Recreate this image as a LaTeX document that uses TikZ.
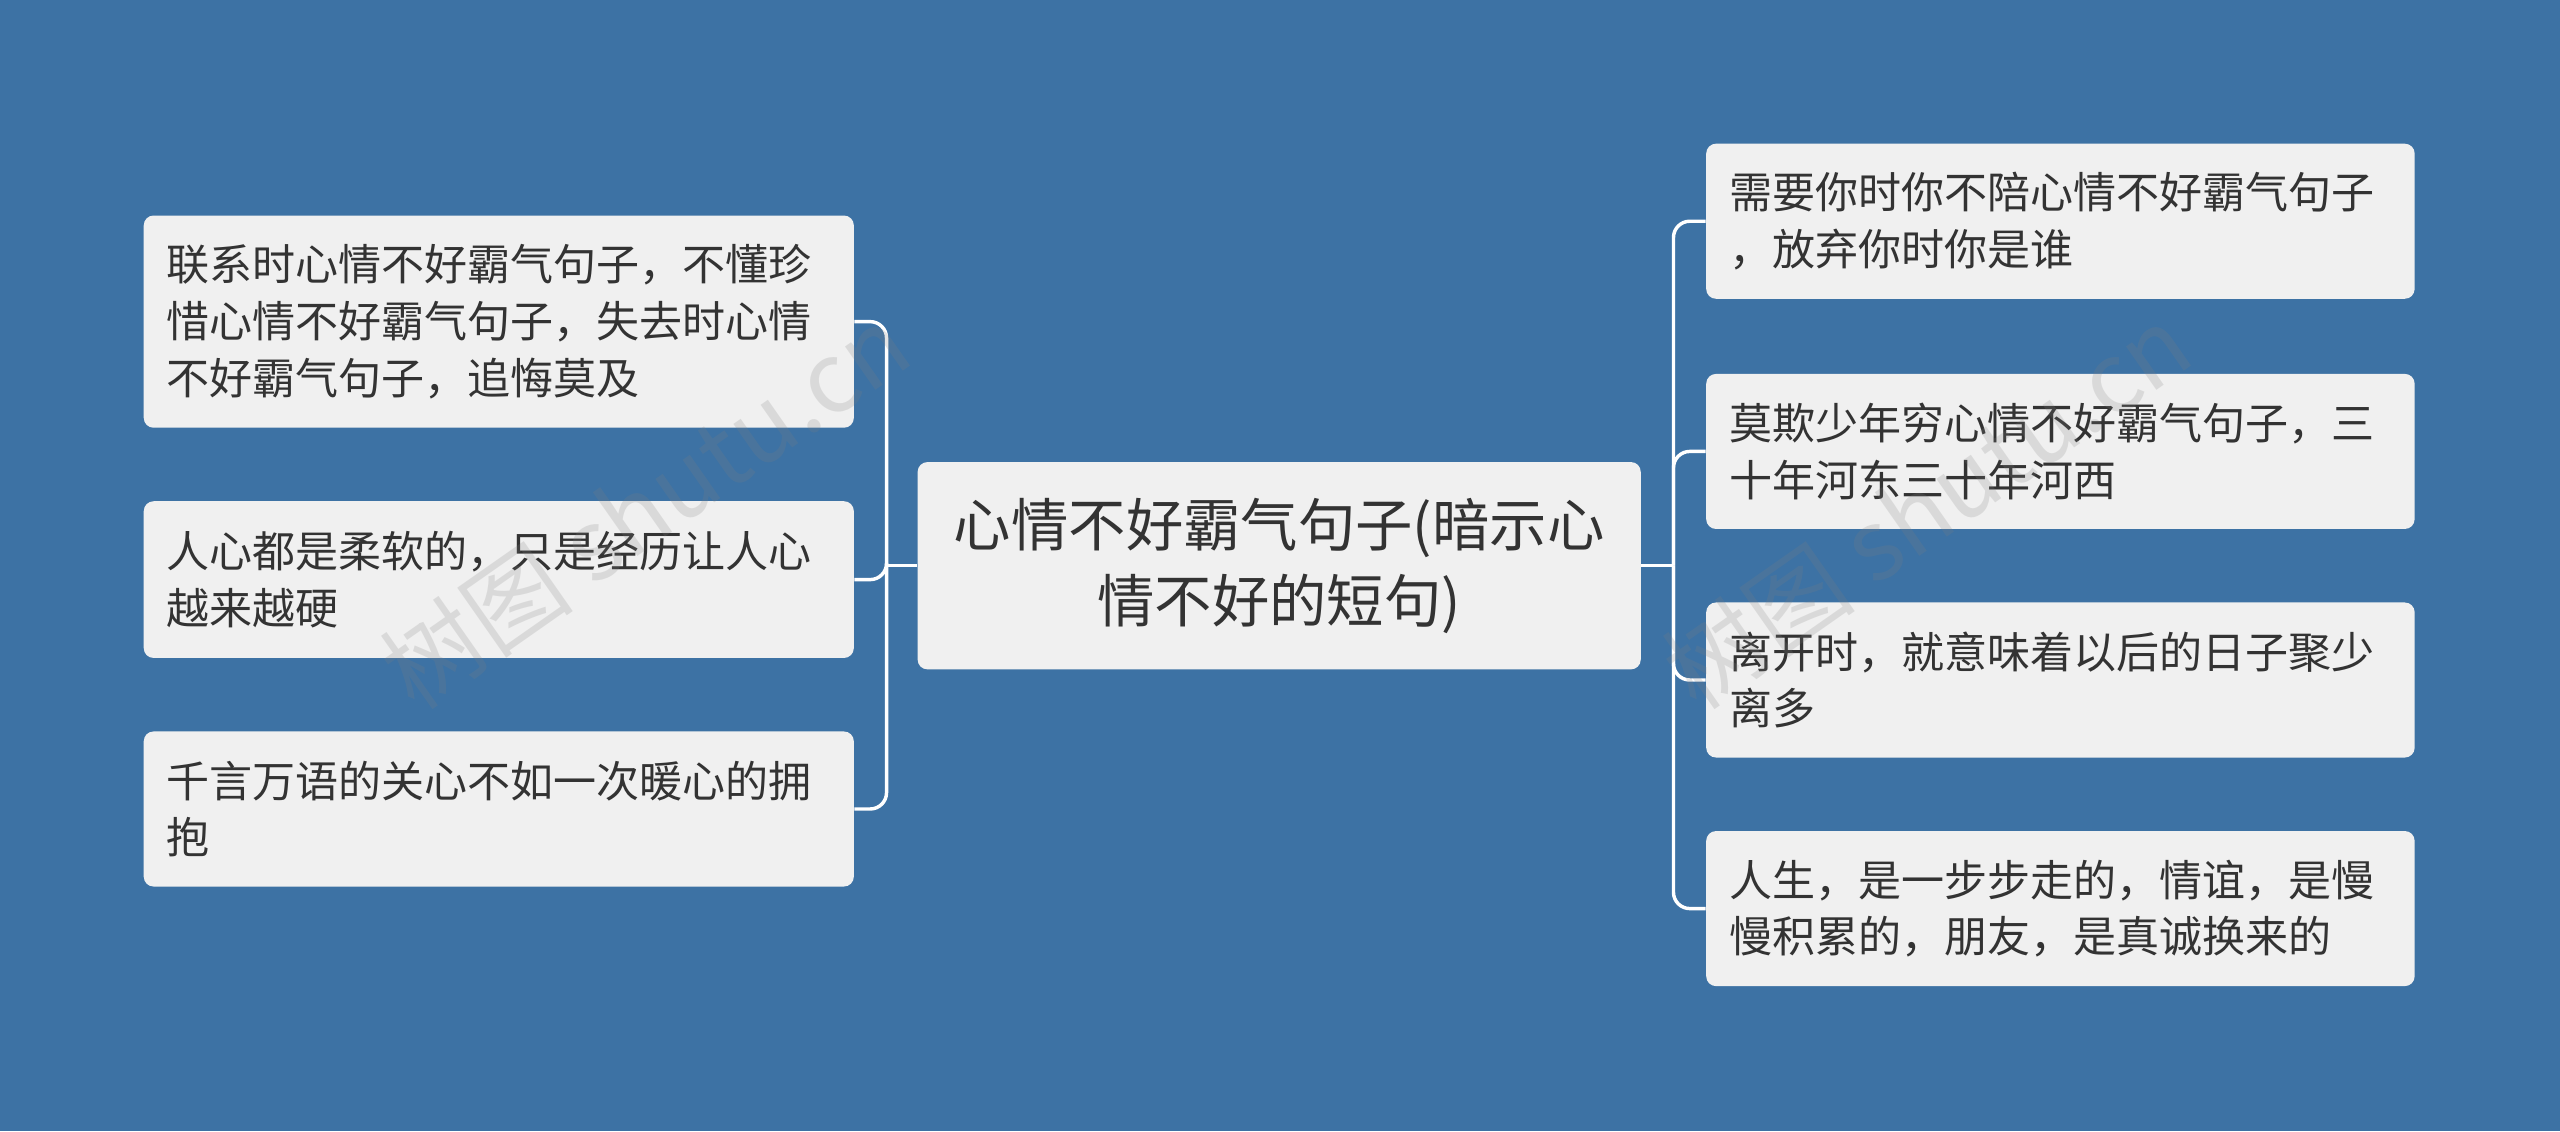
\documentclass[tikz,border=0pt]{standalone}
\usepackage{fontspec}
\setmainfont{Noto Sans CJK SC}
\newfontfamily\wmfont{Noto Sans CJK SC}
\begin{document}
\begin{tikzpicture}[x=0.02cm,y=-0.02cm,
  box/.style={fill=boxc,rounded corners=0.12cm,draw=none,align=left,text=txt,font=\fontsize{15}{19.8}\selectfont,inner xsep=0.28cm,anchor=center},
  lbox/.style={box,minimum width=8.7cm,text width=8.14cm},
  rbox/.style={box,minimum width=8.68cm,text width=8.12cm},
  conn/.style={draw=white,line width=1.2pt,rounded corners=0.2cm}]
\definecolor{bgc}{HTML}{3D72A4}
\definecolor{boxc}{HTML}{F0F0F0}
\definecolor{txt}{HTML}{333333}
\fill[bgc] (0,0) rectangle (1568,693);
\useasboundingbox (0,0) rectangle (1568,693);
\node[box,minimum width=8.86cm,minimum height=2.54cm,align=center,text width=8.3cm,inner xsep=0.1cm,font=\fontsize{20}{26.6}\selectfont] (c) at (783.5,346.5) {心情不好霸气句子(暗示心\\情不好的短句)};
\node[lbox,minimum height=2.6cm] (l1) at (305.5,197) {联系时心情不好霸气句子，不懂珍\\惜心情不好霸气句子，失去时心情\\不好霸气句子，追悔莫及};
\node[lbox,minimum height=1.92cm] (l2) at (305.5,355) {人心都是柔软的，只是经历让人心\\越来越硬};
\node[lbox,minimum height=1.9cm] (l3) at (305.5,495.5) {千言万语的关心不如一次暖心的拥\\抱};
\node[rbox,minimum height=1.9cm] (r1) at (1262,135.5) {需要你时你不陪心情不好霸气句子\\，放弃你时你是谁};
\node[rbox,minimum height=1.9cm] (r2) at (1262,276.5) {莫欺少年穷心情不好霸气句子，三\\十年河东三十年河西};
\node[rbox,minimum height=1.9cm] (r3) at (1262,416.5) {离开时，就意味着以后的日子聚少\\离多};
\node[rbox,minimum height=1.9cm] (r4) at (1262,556.5) {人生，是一步步走的，情谊，是慢\\慢积累的，朋友，是真诚换来的};
\coordinate (lt) at (543,346.5);
\coordinate (rt) at (1025,346.5);
\draw[conn] (c.west) -- (lt);
\draw[conn] (c.east) -- (rt);
\foreach \n in {l1,l2,l3}{\draw[conn] (lt) |- (\n.east);}
\foreach \n in {r1,r2,r3,r4}{\draw[conn] (rt) |- (\n.west);}
\node[rotate=35,text=gray,opacity=0.2,font=\wmfont\fontsize{34}{34}\selectfont] (w1) at (395,310) {树图 shutu.cn};
\node[rotate=35,text=gray,opacity=0.2,font=\wmfont\fontsize{34}{34}\selectfont] (w2) at (1180,310) {树图 shutu.cn};
\end{tikzpicture}
\end{document}
